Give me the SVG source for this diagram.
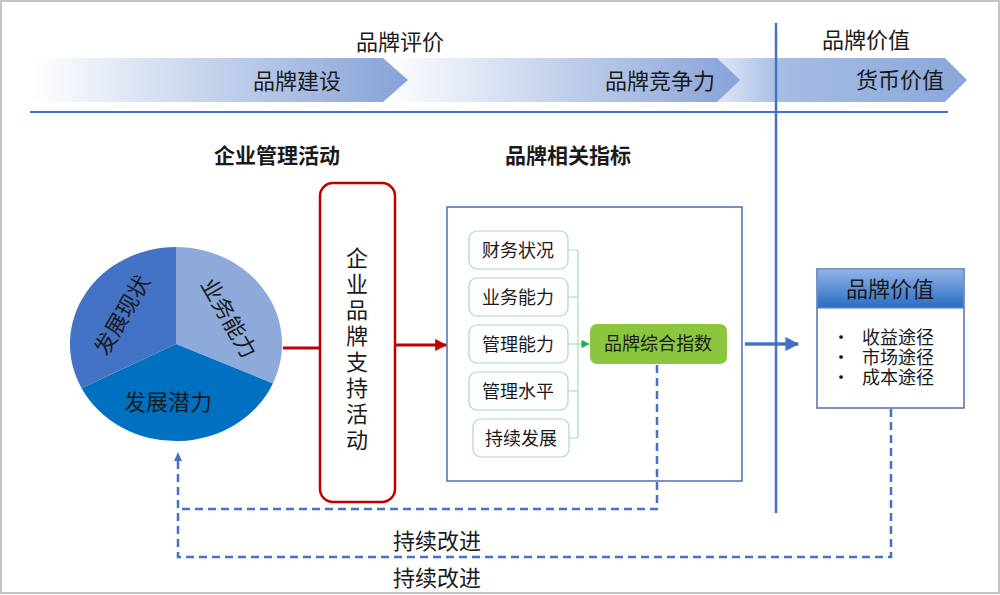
<svg xmlns="http://www.w3.org/2000/svg" width="1000" height="595" viewBox="0 0 1000 595">
<defs>
<linearGradient id="g1" x1="30" y1="0" x2="408" y2="0" gradientUnits="userSpaceOnUse"><stop offset="0" stop-color="#ffffff"/><stop offset="1" stop-color="#86a2d8"/></linearGradient>
<linearGradient id="g2" x1="383" y1="0" x2="740" y2="0" gradientUnits="userSpaceOnUse"><stop offset="0" stop-color="#ffffff"/><stop offset="1" stop-color="#86a2d8"/></linearGradient>
<linearGradient id="g3" x1="700" y1="0" x2="967" y2="0" gradientUnits="userSpaceOnUse"><stop offset="0" stop-color="#eef2fa"/><stop offset="0.3" stop-color="#a6bde5"/><stop offset="1" stop-color="#8aa6da"/></linearGradient>
<linearGradient id="gh" x1="0" y1="0" x2="0" y2="1"><stop offset="0" stop-color="#8fb3e6"/><stop offset="1" stop-color="#2a6cc4"/></linearGradient>
<marker id="ar" viewBox="0 0 10 10" refX="9" refY="5" markerWidth="4" markerHeight="4" orient="auto"><path d="M0,0 L10,5 L0,10 z" fill="#c00000"/></marker>
<marker id="ab" viewBox="0 0 10 10" refX="9" refY="5" markerWidth="4" markerHeight="4" orient="auto"><path d="M0,0 L10,5 L0,10 z" fill="#4472c4"/></marker>
<marker id="ag" viewBox="0 0 10 10" refX="9" refY="5" markerWidth="7" markerHeight="7" orient="auto"><path d="M0,0 L10,5 L0,10 z" fill="#22b14c"/></marker>
</defs>
<style>
text{font-family:"Noto Sans CJK SC","Liberation Sans",sans-serif;fill:#1a1a1a;}
.t22{font-size:22px;}
.t18{font-size:18px;}
.hd{font-size:21px;font-weight:bold;}
.sb{fill:#ffffff;stroke:#a8dcbc;stroke-width:1.2;}
.br{fill:none;stroke:#a8dcbc;stroke-width:1.2;}
.dash{fill:none;stroke:#4472c4;stroke-width:2.5;stroke-dasharray:8,5;}
</style>
<rect x="1" y="1" width="998" height="592" fill="#ffffff" stroke="#c4c4c4" stroke-width="2"/>

<g id="band">
<path d="M700,58 L945,58 L967,80 L945,102 L700,102 Z" fill="url(#g3)"/>
<path d="M383,58 L717,58 L740,80 L717,102 L383,102 Z" fill="url(#g2)"/>
<path d="M30,58 L383,58 L408,80 L383,102 L30,102 Z" fill="url(#g1)"/>
<text class="t22" x="400" y="50" text-anchor="middle">品牌评价</text>
<text class="t22" x="866" y="48" text-anchor="middle">品牌价值</text>
<text class="t22" x="297" y="89" text-anchor="middle">品牌建设</text>
<text class="t22" x="660" y="89" text-anchor="middle">品牌竞争力</text>
<text class="t22" x="900" y="88" text-anchor="middle">货币价值</text>
<line x1="30" y1="112" x2="948" y2="112" stroke="#4472c4" stroke-width="2"/>
<line x1="776" y1="23" x2="776" y2="513" stroke="#4472c4" stroke-width="2.5"/>
</g>

<text class="hd" x="277" y="163" text-anchor="middle">企业管理活动</text>
<text class="hd" x="568" y="163" text-anchor="middle">品牌相关指标</text>

<g id="pie">
<path d="M176,344 L176,247 A106,97 0 0 1 272.9,383.4 Z" fill="#8eaadb"/>
<path d="M176,344 L272.9,383.4 A106,97 0 0 1 81.6,388.2 Z" fill="#0070c0"/>
<path d="M176,344 L81.6,388.2 A106,97 0 0 1 176,247 Z" fill="#4472c4"/>
<text class="t22" transform="translate(122,315) rotate(-60)" text-anchor="middle" dy="8">发展现状</text>
<text class="t22" transform="translate(229,318) rotate(60)" text-anchor="middle" dy="8">业务能力</text>
<text class="t22" x="168" y="410" text-anchor="middle">发展潜力</text>
</g>

<g id="support">
<rect x="320" y="183" width="75" height="319" rx="13" fill="#ffffff" stroke="#c00000" stroke-width="2.5"/>
<text class="t22" x="357" text-anchor="middle"><tspan x="357" y="266">企</tspan><tspan x="357" y="292">业</tspan><tspan x="357" y="318">品</tspan><tspan x="357" y="344">牌</tspan><tspan x="357" y="370">支</tspan><tspan x="357" y="396">持</tspan><tspan x="357" y="422">活</tspan><tspan x="357" y="448">动</tspan></text>
</g>

<g id="indicators">
<rect x="447" y="207" width="295" height="274" fill="#ffffff" stroke="#4f6fb0" stroke-width="1.5"/>
</g>
<g id="n1"><rect class="sb" x="469" y="231" width="99" height="38" rx="8"/><text class="t18" x="518" y="257" text-anchor="middle">财务状况</text></g>
<g id="n2"><rect class="sb" x="469" y="278" width="99" height="38" rx="8"/><text class="t18" x="518" y="304" text-anchor="middle">业务能力</text></g>
<g id="n3"><rect class="sb" x="469" y="325" width="99" height="38" rx="8"/><text class="t18" x="518" y="351" text-anchor="middle">管理能力</text></g>
<g id="n4"><rect class="sb" x="469" y="372" width="99" height="38" rx="8"/><text class="t18" x="518" y="398" text-anchor="middle">管理水平</text></g>
<g id="n5"><rect class="sb" x="473" y="419" width="96" height="38" rx="8"/><text class="t18" x="521" y="445" text-anchor="middle">持续发展</text></g>
<g id="index">
<rect x="590" y="324" width="137" height="40" rx="7" fill="#8cc63f"/>
<text class="t18" x="658" y="350" text-anchor="middle">品牌综合指数</text>
</g>

<g id="value">
<rect x="817" y="269" width="147" height="139" fill="#ffffff" stroke="#4f6fb0" stroke-width="1.5"/>
<rect x="817.75" y="269.75" width="145.5" height="38" fill="url(#gh)"/>
<line x1="817" y1="308" x2="964" y2="308" stroke="#4f6fb0" stroke-width="1"/>
<text class="t22" x="890" y="297" text-anchor="middle">品牌价值</text>
<text class="t18"><tspan x="832" y="344">•</tspan><tspan x="862" y="344">收益途径</tspan><tspan x="832" y="364">•</tspan><tspan x="862" y="364">市场途径</tspan><tspan x="832" y="384">•</tspan><tspan x="862" y="384">成本途径</tspan></text>
</g>

<g id="connectors">
<line x1="283" y1="348" x2="320" y2="348" stroke="#c00000" stroke-width="3"/>
<line x1="395" y1="345" x2="446" y2="345" stroke="#c00000" stroke-width="3" marker-end="url(#ar)"/>
<path class="br" d="M568,250 H578 M568,297 H578 M568,391 H578 M569,438 H578 M578,250 V438"/>
<line x1="568" y1="344" x2="589" y2="344" stroke="#a8dcbc" stroke-width="1.2" marker-end="url(#ag)"/>
<line x1="745" y1="344" x2="798" y2="344" stroke="#4472c4" stroke-width="3.5" marker-end="url(#ab)"/>
<path class="dash" d="M657,365 V509 H178"/>
<path class="dash" d="M891,409 V557 H178 V460"/>
<path d="M178,452 L174,461 L182,461 Z" fill="#4472c4"/>
</g>
<text class="t22" x="437" y="549" text-anchor="middle">持续改进</text>
<text class="t22" x="437" y="586" text-anchor="middle">持续改进</text>
</svg>
